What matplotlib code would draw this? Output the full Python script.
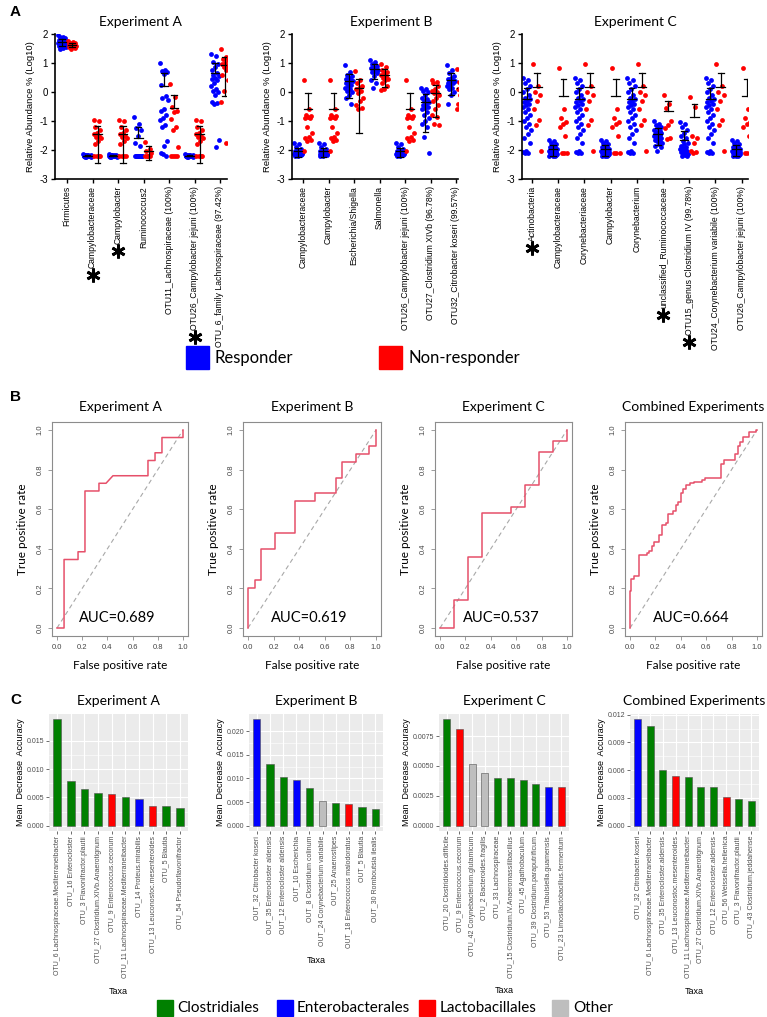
import numpy as np
import matplotlib
matplotlib.use("Agg")
import matplotlib.pyplot as plt
from matplotlib.lines import Line2D
from matplotlib.patches import Rectangle

# ======================= DATA =======================
# ---- Panel A : Experiment A (log10 relative abundance) ----
expA_cats = ["Firmicutes", "Campylobacteraceae", "Campylobacter", "Ruminococcus2",
             "OTU11_Lachnospiraceae (100%)", "OTU26_Campylobacter jejuni (100%)",
             "OTU_6_family Lachnospiraceae (97.42%)"]
expA_star = [False, True, True, False, False, True, False]
firm_A_resp = [1.95, 1.9, 1.88, 1.85, 1.82, 1.8, 1.78, 1.76, 1.75, 1.74, 1.72, 1.7, 1.7,
               1.68, 1.66, 1.65, 1.64, 1.62, 1.6, 1.58, 1.56, 1.55, 1.52, 1.5]
firm_A_non = [1.75, 1.72, 1.7, 1.68, 1.66, 1.65, 1.63, 1.62, 1.6, 1.58, 1.56, 1.53, 1.5]
campy_A_resp = [-2.15, -2.17, -2.18, -2.2, -2.2, -2.2, -2.21, -2.22, -2.2, -2.19, -2.23, -2.2,
                -2.18, -2.22, -2.2, -2.24, -2.16, -2.2, -2.21, -2.19, -2.2, -2.25, -2.2, -2.17]
campy_A_non = [-0.95, -1.0, -1.2, -1.3, -1.4, -1.45, -1.5, -1.55, -1.6, -1.7, -1.8,
               -2.2, -2.2, -2.2, -2.2]
rumino_A_resp = [-0.85, -1.1, -1.25, -1.3, -1.5, -1.75, -1.85, -2.2, -2.2, -2.2, -2.2,
                 -2.2, -2.2, -2.2, -2.2, -2.2, -2.2]
rumino_A_non = [-1.72, -1.95, -2.05, -2.1, -2.2, -2.2, -2.2, -2.22]
otu11_A_resp = [1.0, 0.75, 0.72, 0.68, 0.62, 0.25, -0.15, -0.22, -0.28, -0.6, -0.65, -0.8,
                -0.9, -0.95, -1.13, -1.22, -1.7, -1.85, -2.1, -2.2, -2.15]
otu11_A_non = [0.28, -0.18, -0.53, -0.64, -0.7, -0.93, -1.22, -1.3, -1.9, -2.2, -2.2, -2.2, -2.2]
otu6_A_resp = [1.3, 1.25, 1.05, 0.95, 0.85, 0.75, 0.65, 0.6, 0.55, 0.5, 0.45, 0.4, 0.3, 0.2,
               0.1, 0.05, 0.0, -0.1, -0.35, -0.38, -0.4, -1.65, -1.9]
otu6_A_non = [1.48, 1.2, 1.15, 1.1, 1.0, 0.95, 0.9, 0.85, 0.8, 0.75, 0.6, 0.4, 0.05, -0.35, -1.75]
expA_resp = [firm_A_resp, campy_A_resp, campy_A_resp, rumino_A_resp, otu11_A_resp,
             campy_A_resp, otu6_A_resp]
expA_non = [firm_A_non, campy_A_non, campy_A_non, rumino_A_non, otu11_A_non,
            campy_A_non, otu6_A_non]

# ---- Panel A : Experiment B ----
expB_cats = ["Campylobacteraceae", "Campylobacter", "Escherichia/Shigella", "Salmonella",
             "OTU26_Campylobacter jejuni (100%)", "OTU27_Clostridium XIVb (96.78%)",
             "OTU32_Citrobacter koseri (99.57%)"]
expB_star = [False] * 7
campy_B_resp = [-1.75, -1.8, -1.9, -1.95, -2.0, -2.05, -2.05, -2.1, -2.1, -2.1, -2.1, -2.12,
                -2.12, -2.15, -2.15, -2.15, -2.18, -2.2, -2.2, -2.1, -2.08, -2.13]
campy_B_non = [0.4, -0.6, -0.8, -0.82, -0.85, -0.88, -0.9, -1.2, -1.4, -1.55, -1.6, -1.65,
               -1.7, -2.02]
esch_B_resp = [0.92, 0.7, 0.6, 0.55, 0.5, 0.45, 0.42, 0.4, 0.38, 0.35, 0.3, 0.25, 0.2, 0.15,
               0.1, 0.05, 0.0, -0.1, -0.2, -0.4]
esch_B_non = [0.72, 0.4, 0.3, 0.2, 0.15, 0.1, 0.05, -0.05, -0.2, -0.3, -0.45, -0.55, -0.6]
salm_B_resp = [1.12, 1.05, 0.95, 0.9, 0.85, 0.82, 0.8, 0.78, 0.75, 0.72, 0.7, 0.65, 0.55,
               0.4, 0.3, 0.15]
salm_B_non = [0.97, 0.85, 0.75, 0.7, 0.65, 0.6, 0.55, 0.5, 0.45, 0.4, 0.3, 0.2, 0.1, 0.08]
otu27_B_resp = [0.15, 0.1, 0.05, 0.0, -0.1, -0.2, -0.25, -0.3, -0.35, -0.4, -0.45, -0.5,
                -0.55, -0.6, -0.7, -0.8, -0.9, -1.0, -1.1, -1.2, -1.55, -2.1]
otu27_B_non = [0.4, 0.35, 0.3, 0.2, 0.1, 0.05, 0.0, -0.05, -0.1, -0.2, -0.3, -0.45, -0.6,
               -0.8, -0.85, -1.1, -1.15]
otu32_B_resp = [0.92, 0.75, 0.65, 0.55, 0.5, 0.45, 0.42, 0.4, 0.38, 0.35, 0.32, 0.3, 0.25,
                0.2, 0.15, 0.1, 0.0, -0.1, -0.4]
otu32_B_non = [0.78, 0.4, 0.35, 0.3, 0.2, 0.1, 0.0, -0.1, -0.2, -0.3, -0.4, -0.5, -0.55, -0.6]
expB_resp = [campy_B_resp, campy_B_resp, esch_B_resp, salm_B_resp, campy_B_resp,
             otu27_B_resp, otu32_B_resp]
expB_non = [campy_B_non, campy_B_non, esch_B_non, salm_B_non, campy_B_non,
            otu27_B_non, otu32_B_non]

# ---- Panel A : Experiment C ----
expC_cats = ["Actinobacteria", "Campylobacteraceae", "Corynebacteriaceae", "Campylobacter",
             "Corynebacterium", "unclassified_Ruminococcaceae",
             "OTU15_genus Clostridium IV (99.78%)", "OTU24_Corynebacterium variabile (100%)",
             "OTU26_Campylobacter jejuni (100%)"]
expC_star = [True, False, False, False, False, True, True, False, False]
actino_C_resp = [0.47, 0.42, 0.3, 0.2, 0.1, 0.0, -0.1, -0.2, -0.25, -0.3, -0.35, -0.4, -0.45,
                 -0.5, -0.6, -0.7, -0.8, -0.9, -1.0, -1.1, -1.2, -1.3, -1.45, -1.6, -1.75,
                 -2.05, -2.08, -2.1, -2.12]
actino_C_non = [0.97, 0.2, 0.0, -0.1, -0.3, -0.6, -0.95, -1.15, -2.05]
campy_C_resp = [-1.65, -1.7, -1.75, -1.8, -1.85, -1.88, -1.9, -1.92, -1.95, -1.97, -2.0,
                -2.0, -2.02, -2.03, -2.05, -2.05, -2.07, -2.08, -2.1, -2.1, -2.12, -2.13,
                -2.15, -2.15, -2.18, -2.2, -2.2, -2.22]
campy_C_non = [0.82, -0.58, -0.9, -1.05, -1.1, -1.2, -1.5, -2.1, -2.12, -2.12]
rumin_C_resp = [-1.0, -1.1, -1.15, -1.2, -1.25, -1.3, -1.35, -1.38, -1.4, -1.42, -1.45,
                -1.47, -1.5, -1.52, -1.55, -1.57, -1.6, -1.62, -1.65, -1.68, -1.7, -1.75,
                -1.8, -1.85, -1.9, -2.05]
rumin_C_non = [-0.12, -0.4, -0.55, -1.0, -1.15, -1.25, -1.6, -1.62]
otu15_C_resp = [-1.05, -1.1, -1.2, -1.3, -1.4, -1.5, -1.6, -1.7, -1.75, -1.8, -1.85, -1.9,
                -1.92, -1.95, -1.97, -2.0, -2.02, -2.05, -2.07, -2.1, -2.12, -2.15, -2.17,
                -2.2, -2.2]
otu15_C_non = [-0.18, -0.5, -1.5, -1.6, -1.75, -2.05, -2.08, -2.1]
expC_resp = [actino_C_resp, campy_C_resp, actino_C_resp, campy_C_resp, actino_C_resp,
             rumin_C_resp, otu15_C_resp, actino_C_resp, campy_C_resp]
expC_non = [actino_C_non, campy_C_non, actino_C_non, campy_C_non, actino_C_non,
            rumin_C_non, otu15_C_non, actino_C_non, campy_C_non]

# ---- Panel B : ROC curves ----
fpr_A = [0, 0.056, 0.056, 0.167, 0.167, 0.222, 0.222, 0.333, 0.333, 0.389, 0.444, 0.722,
         0.722, 0.778, 0.778, 0.833, 0.833, 1.0, 1.0]
tpr_A = [0, 0, 0.346, 0.346, 0.385, 0.385, 0.692, 0.692, 0.731, 0.731, 0.769, 0.769, 0.846,
         0.846, 0.885, 0.885, 0.962, 0.962, 1.0]
fpr_B = [0, 0, 0.053, 0.053, 0.105, 0.105, 0.211, 0.211, 0.368, 0.368, 0.526, 0.526, 0.684,
         0.684, 0.737, 0.737, 0.842, 0.842, 0.947, 0.947, 1.0, 1.0]
tpr_B = [0, 0.2, 0.2, 0.24, 0.24, 0.4, 0.4, 0.48, 0.48, 0.64, 0.64, 0.68, 0.68, 0.76, 0.76,
         0.84, 0.84, 0.88, 0.88, 0.92, 0.92, 1.0]
fpr_C = [0, 0.111, 0.111, 0.222, 0.222, 0.333, 0.333, 0.556, 0.556, 0.667, 0.667, 0.778,
         0.778, 0.889, 0.889, 1.0, 1.0]
tpr_C = [0, 0, 0.139, 0.139, 0.361, 0.361, 0.583, 0.583, 0.611, 0.611, 0.722, 0.722, 0.889,
         0.889, 0.944, 0.944, 1.0]
fpr_comb = [0, 0, 0.01, 0.03, 0.07, 0.13, 0.15, 0.17, 0.19, 0.23, 0.25, 0.28, 0.30, 0.34,
            0.36, 0.38, 0.40, 0.42, 0.44, 0.47, 0.50, 0.57, 0.59, 0.72, 0.74, 0.83, 0.85,
            0.87, 0.89, 0.94, 0.99, 1.0]
tpr_comb = [0, 0.185, 0.25, 0.265, 0.37, 0.38, 0.39, 0.415, 0.435, 0.47, 0.52, 0.53, 0.575,
            0.59, 0.62, 0.635, 0.68, 0.70, 0.72, 0.73, 0.735, 0.745, 0.76, 0.83, 0.85, 0.88,
            0.92, 0.94, 0.965, 0.99, 1.0, 1.0]
auc_vals = ["0.689", "0.619", "0.537", "0.664"]
exp_titles = ["Experiment A", "Experiment B", "Experiment C", "Combined Experiments"]

# ---- Panel C : Mean decrease accuracy ----
impA_labels = ["OTU_6 Lachnospiraceae.Mediterraneibacter", "OTU_16 Enterocloster",
               "OTU_3 Flavonifractor.plautii", "OTU_27 Clostridium.XIVb.Anaerotignum",
               "OTU_9 Enterococcus.cecorum", "OTU_11 Lachnospiraceae.Mediterraneibacter",
               "OTU_14 Proteus.mirabilis", "OTU_13 Leuconostoc.mesenteroides",
               "OTU_5 Blautia", "OTU_54 Pseudoflavonifractor"]
impA_vals = [0.0188, 0.0079, 0.0065, 0.0057, 0.0056, 0.0050, 0.0047, 0.0035, 0.0035, 0.0032]
impA_order = ["Clo", "Clo", "Clo", "Clo", "Lac", "Clo", "Ent", "Lac", "Clo", "Clo"]
impB_labels = ["OUT_32 Citrobacter koseri", "OUT_35 Enterocloster aldensis",
               "OUT_12 Enterocloster aldensis", "OUT_10 Escherichia",
               "OUT_8 Clostridium colinum", "OUT_24 Corynebacterium variabile",
               "OUT_25 Anaerostipes", "OUT_18 Enterococcus malodoratus",
               "OUT_5 Blautia", "OUT_30 Romboutsia ilealis"]
impB_vals = [0.0225, 0.0131, 0.0104, 0.0096, 0.0080, 0.0053, 0.0047, 0.0046, 0.0040, 0.0036]
impB_order = ["Ent", "Clo", "Clo", "Ent", "Clo", "Oth", "Clo", "Lac", "Clo", "Clo"]
impC_labels = ["OTU_20 Clostridioides.difficile", "OTU_9 Enterococcus.cecorum",
               "OTU_42 Corynebacterium.glutamicum", "OTU_2 Bacteroides.fragilis",
               "OTU_33 Lachnospiraceae", "OTU_15 Clostridium.IV.Anaeromassilibacillus",
               "OTU_45 Agathobaculum", "OTU_39 Clostridium.paraputrificum",
               "OTU_53 Trabulsiella.guamensis", "OTU_23 Limosilactobacillus.fermentum"]
impC_vals = [0.0089, 0.0081, 0.0052, 0.0044, 0.0040, 0.0040, 0.0038, 0.0035, 0.0032, 0.0032]
impC_order = ["Clo", "Lac", "Oth", "Oth", "Clo", "Clo", "Clo", "Clo", "Ent", "Lac"]
impD_labels = ["OTU_32 Citrobacter.koseri", "OTU_6 Lachnospiraceae.Mediterraneibacter",
               "OTU_35 Enterocloster.aldensis", "OTU_13 Leuconostoc.mesenteroides",
               "OTU_11 Lachnospiraceae.Mediterraneibacter",
               "OTU_27 Clostridium.XIVb.Anaerotignum", "OTU_12 Enterocloster.aldensis",
               "OTU_56 Weissella.hellenica", "OTU_3 Flavonifractor.plautii",
               "OTU_43 Clostridium.jeddahense"]
impD_vals = [0.0115, 0.0108, 0.0060, 0.0054, 0.0053, 0.0042, 0.0042, 0.0031, 0.0029, 0.0027]
impD_order = ["Ent", "Clo", "Clo", "Lac", "Clo", "Clo", "Clo", "Lac", "Clo", "Clo"]
order_names = {"Clo": "Clostridiales", "Ent": "Enterobacterales",
               "Lac": "Lactobacillales", "Oth": "Other"}

# ======================= STYLE =======================
W, H = 767, 1017
ARIAL = "Liberation Sans"
CAL = "Lato"
BLUE, RED = "#0000FF", "#FF0000"
order_colors = {"Clo": "#008000", "Ent": "#0000FF", "Lac": "#FF0000", "Oth": "#BEBEBE"}

fig = plt.figure(figsize=(W / 100, H / 100), dpi=100)
fig.patch.set_facecolor("white")


def add_ax(l, t, r, b):
    return fig.add_axes([l / W, 1 - b / H, (r - l) / W, (b - t) / H])


def ftext(x, y, s, **kw):
    return fig.text(x / W, 1 - y / H, s, **kw)


def frect(x, y, w, h, color):
    fig.add_artist(Rectangle((x / W, 1 - (y + h) / H), w / W, h / H,
                             transform=fig.transFigure, color=color))


def jitter(n, width):
    k = np.arange(n)
    return ((k * 0.618034) % 1.0 - 0.5) * width


star_requests = []


def dot_panel(l, r, x0px, step, cats, stars, resp, non, title, title_x):
    ax = add_ax(l, 34, r, 179)
    ax.set_xlim((l - x0px) / step, (r - x0px) / step)
    ax.set_ylim(-3, 2)
    for i, (rv, nv) in enumerate(zip(resp, non)):
        for vals, col, dx in ((rv, BLUE, -0.2), (nv, RED, 0.2)):
            v = np.asarray(vals, float)
            xc = i + dx
            ax.scatter(xc + jitter(len(v), 0.32), v, s=12, color=col, linewidths=0, zorder=2)
            lin = 10 ** v
            m, sd = lin.mean(), lin.std(ddof=1)
            top = np.log10(m + sd)
            lm = np.log10(m)
            bot = np.log10(m - sd) if m - sd > 0 else lm
            ax.plot([xc, xc], [bot, top], color="k", lw=0.9, zorder=3)
            ax.plot([xc - 0.11, xc + 0.11], [top, top], color="k", lw=0.9, zorder=3)
            if m - sd > 0:
                ax.plot([xc - 0.11, xc + 0.11], [bot, bot], color="k", lw=0.9, zorder=3)
            ax.plot([xc - 0.17, xc + 0.17], [lm, lm], color="k", lw=0.9, zorder=3)
    for s in ("top", "right"):
        ax.spines[s].set_visible(False)
    for s in ("left", "bottom"):
        ax.spines[s].set_linewidth(1.2)
    ax.set_yticks([-3, -2, -1, 0, 1, 2])
    ax.set_yticklabels(["-3", "-2", "-1", "0", "1", "2"], fontsize=7, family=ARIAL)
    ax.set_xticks(range(len(cats)))
    ax.set_xticklabels(cats, rotation=90, fontsize=6.2, family=ARIAL)
    ax.tick_params(length=3, width=1, pad=2)
    ax.set_ylabel("Relative Abundance % (Log10)", fontsize=6.8, family=ARIAL, labelpad=3)
    ftext(title_x, 22, title, fontsize=10, family=CAL, ha="center", va="center")
    star_requests.append((ax, stars))
    return ax


dot_panel(55, 227, 67, 25.5, expA_cats, expA_star, expA_resp, expA_non, "Experiment A", 140)
dot_panel(292, 458, 303, 25.5, expB_cats, expB_star, expB_resp, expB_non, "Experiment B", 391)
dot_panel(522, 748, 532, 26.2, expC_cats, expC_star, expC_resp, expC_non, "Experiment C", 635)

# legend A
frect(186, 346, 23, 23, BLUE)
ftext(215, 358, "Responder", fontsize=12, family=CAL, va="center")
frect(379, 346, 23, 23, RED)
ftext(408, 358, "Non-responder", fontsize=12, family=CAL, va="center")

# panel letters
ftext(10, 12, "A", fontsize=11, family=ARIAL, weight="bold", va="center")
ftext(10, 397, "B", fontsize=11, family=ARIAL, weight="bold", va="center")
ftext(10, 700, "C", fontsize=11, family=ARIAL, weight="bold", va="center")

# ======================= PANEL B =======================
roc_sets = [(fpr_A, tpr_A, 57, 183, False), (fpr_B, tpr_B, 248, 376, False),
            (fpr_C, tpr_C, 440, 567, False), (fpr_comb, tpr_comb, 630, 757, True)]
for k, (fx, ty, px0, px1, stepwise) in enumerate(roc_sets):
    span = px1 - px0
    y0p, y1p = 628, 430
    ysp = y0p - y1p
    ax = add_ax(px0 - 0.04 * span, y1p - 0.04 * ysp, px1 + 0.04 * span, y0p + 0.04 * ysp)
    ax.set_xlim(-0.04, 1.04)
    ax.set_ylim(-0.04, 1.04)
    ax.plot([0, 1], [0, 1], ls=(0, (4, 3)), color="#A8A8A8", lw=0.8)
    if stepwise:
        ax.step(fx, ty, where="post", color="#E6506A", lw=1.1)
    else:
        ax.plot(fx, ty, color="#E6506A", lw=1.1)
    for s in ax.spines.values():
        s.set_color("#8C8C8C")
        s.set_linewidth(0.8)
    ticks = np.arange(0, 1.01, 0.2)
    tl = ["%.1f" % t for t in ticks]
    ax.set_xticks(ticks)
    ax.set_xticklabels(tl, fontsize=5.5, family=ARIAL, color="#444444")
    ax.set_yticks(ticks)
    ax.set_yticklabels(tl, fontsize=5.5, family=ARIAL, color="#444444", rotation=90,
                       va="center")
    ax.tick_params(length=3, width=0.6, color="#8C8C8C", pad=3)
    ax.set_xlabel("False positive rate", fontsize=8.5, family=CAL, labelpad=6)
    ax.set_ylabel("True positive rate", fontsize=8.5, family=CAL, labelpad=6)
    ax.text(0.48, 0.05, "AUC=" + auc_vals[k], fontsize=10.5, family=CAL, ha="center",
            va="center")
    ftext((px0 + px1) / 2, 407, exp_titles[k], fontsize=10, family=CAL, ha="center",
          va="center")

# ======================= PANEL C =======================
imp_sets = [(impA_labels, impA_vals, impA_order, 49, 188, [0, 0.005, 0.010, 0.015], "%.3f"),
            (impB_labels, impB_vals, impB_order, 249, 383, [0, 0.005, 0.010, 0.015, 0.020], "%.3f"),
            (impC_labels, impC_vals, impC_order, 439, 569, [0, 0.0025, 0.0050, 0.0075], "%.4f"),
            (impD_labels, impD_vals, impD_order, 630, 759, [0, 0.003, 0.006, 0.009, 0.012], "%.3f")]
for k, (labs, vals, ords, l, r, yt, fmt) in enumerate(imp_sets):
    ax = add_ax(l, 714, r, 831)
    n = len(vals)
    xs = np.arange(1, n + 1)
    ax.bar(xs, vals, width=0.55, color=[order_colors[o] for o in ords],
           edgecolor="#505050", linewidth=0.4, zorder=3)
    ax.set_xlim(0.4, n + 0.6)
    vmax = max(vals)
    ax.set_ylim(-0.05 * vmax, 1.05 * vmax)
    ax.set_facecolor("#EBEBEB")
    ax.set_yticks(yt)
    ax.set_yticklabels([fmt % t for t in yt], fontsize=5, family=ARIAL, color="#4D4D4D")
    mids = [(yt[i] + yt[i + 1]) / 2 for i in range(len(yt) - 1)]
    ax.set_yticks(mids, minor=True)
    ax.set_xticks(xs)
    ax.set_xticklabels(labs, rotation=90, fontsize=5, family=ARIAL, color="#4D4D4D")
    ax.grid(which="major", color="white", lw=0.8, zorder=0)
    ax.grid(which="minor", axis="y", color="white", lw=0.4, zorder=0)
    ax.set_axisbelow(True)
    for s in ax.spines.values():
        s.set_visible(False)
    ax.tick_params(which="major", length=2, width=0.5, color="#333333", pad=1.5)
    ax.tick_params(which="minor", length=0)
    ax.set_xlabel("Taxa", fontsize=6.5, family=ARIAL, labelpad=6)
    ax.set_ylabel("Mean  Decrease  Accuracy", fontsize=6.5, family=ARIAL, labelpad=1)
    ftext((l + r) / 2, 701, exp_titles[k], fontsize=10, family=CAL, ha="center", va="center")

# legend C
leg = [("Clo", 157, 177), ("Ent", 277, 297), ("Lac", 419, 440), ("Oth", 552, 573)]
for key, sx, tx in leg:
    frect(sx, 1000, 16, 16, order_colors[key])
    ftext(tx, 1008, order_names[key], fontsize=11, family=CAL, va="center")

# ======================= asterisks =======================
fig.canvas.draw()
renderer = fig.canvas.get_renderer()
for ax, stars in star_requests:
    for lbl, st in zip(ax.get_xticklabels(), stars):
        if st:
            bb = lbl.get_window_extent(renderer)
            cx = (bb.x0 + bb.x1) / 2
            cy = bb.y0 - 7
            fig.add_artist(Line2D([cx / W], [cy / H], marker=(6, 2, 0), markersize=10,
                                  mew=2.0, color="black", transform=fig.transFigure))

fig.savefig("out.png", dpi=100)
